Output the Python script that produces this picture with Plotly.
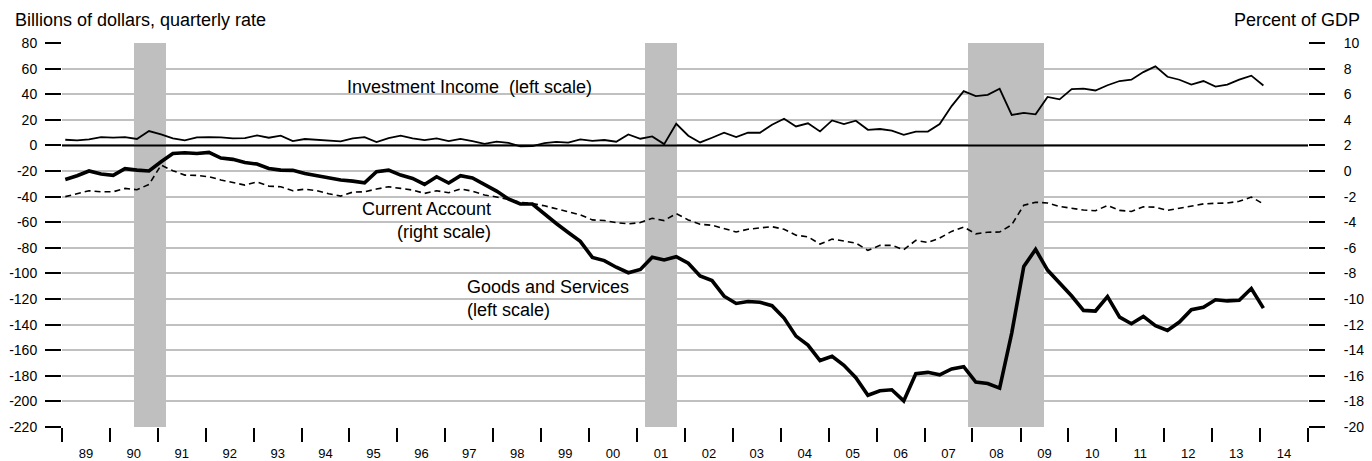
import pandas as pd
import plotly.graph_objects as go

# quarterly data, 1989Q1 - 2014Q1
goods_services = [-26.6, -23.7, -20.0, -22.4, -23.4, -18.2, -19.3, -20.0, -12.8, -6.3,
                  -5.7, -6.3, -5.5, -9.9, -10.9, -13.3, -14.6, -18.0, -19.3, -19.5,
                  -22.0, -23.7, -25.0, -27.0, -27.9, -29.2, -20.6, -19.3, -23.2, -25.8,
                  -30.5, -24.5, -29.4, -23.7, -25.5, -30.5, -35.7, -41.9, -45.8, -45.8,
                  -53.6, -61.0, -68.0, -75.0, -87.5, -90.0, -95.2, -99.5, -96.9, -87.4,
                  -89.5, -87.0, -92.0, -102.0, -105.6, -117.8, -123.5, -122.0, -122.5, -125.2,
                  -134.9, -149.0, -156.0, -168.1, -164.8, -171.8, -181.5, -195.2, -191.7, -190.9,
                  -199.6, -178.4, -177.3, -179.2, -174.6, -172.9, -184.9, -186.0, -189.6, -146.6,
                  -94.5, -81.3, -97.4, -107.5, -117.7, -128.9, -129.4, -118.2, -134.1, -139.3,
                  -133.6, -140.9, -144.5, -138.0, -128.4, -126.4, -120.6, -121.5, -121.0, -111.8,
                  -127.1]

investment_income = [4.4, 3.9, 4.7, 6.5, 6.0, 6.5, 5.0, 11.2, 8.6, 5.5,
                     3.9, 6.3, 6.5, 6.3, 5.5, 5.7, 7.8, 6.0, 7.6, 3.4,
                     5.0, 4.2, 3.6, 3.1, 5.5, 6.5, 2.6, 5.7, 7.6, 5.5,
                     4.2, 5.5, 3.4, 5.1, 3.3, 1.2, 2.9, 2.0, -0.7, -0.6,
                     1.7, 2.8, 2.1, 4.7, 3.6, 4.2, 2.9, 8.6, 5.2, 7.0,
                     1.0, 16.9, 7.6, 2.3, 6.0, 9.9, 6.5, 9.9, 9.9, 16.1,
                     20.8, 14.8, 17.3, 10.9, 19.5, 16.6, 19.3, 12.2, 12.8, 11.5,
                     8.3, 10.8, 10.8, 16.7, 30.7, 42.4, 38.5, 39.5, 44.2, 23.8,
                     25.4, 24.3, 37.9, 36.0, 44.0, 44.3, 42.9, 47.0, 50.3, 51.3,
                     57.3, 61.7, 53.6, 51.3, 47.5, 50.3, 46.0, 47.5, 51.4, 54.5,
                     46.8]

# percent of GDP (right scale)
current_account = [-2.00, -1.78, -1.54, -1.62, -1.62, -1.36, -1.46, -1.05, 0.46, 0.02,
                   -0.32, -0.34, -0.45, -0.70, -0.92, -1.10, -0.86, -1.18, -1.23, -1.54,
                   -1.42, -1.54, -1.78, -1.96, -1.65, -1.62, -1.41, -1.23, -1.36, -1.49,
                   -1.75, -1.54, -1.70, -1.40, -1.58, -1.87, -2.03, -2.22, -2.44, -2.55,
                   -2.72, -2.95, -3.17, -3.43, -3.82, -3.87, -4.03, -4.13, -4.03, -3.69,
                   -3.87, -3.33, -3.82, -4.16, -4.24, -4.50, -4.76, -4.55, -4.45, -4.35,
                   -4.55, -5.02, -5.14, -5.71, -5.32, -5.50, -5.63, -6.20, -5.81, -5.81,
                   -6.15, -5.42, -5.58, -5.24, -4.72, -4.38, -4.91, -4.78, -4.77, -4.20,
                   -2.68, -2.44, -2.50, -2.77, -2.93, -3.05, -3.10, -2.70, -3.08, -3.16,
                   -2.80, -2.82, -3.08, -2.92, -2.71, -2.57, -2.52, -2.50, -2.37, -2.04,
                   -2.57]

recessions = [("1990-07-01", "1991-03-01"),
              ("2001-03-01", "2001-11-01"),
              ("2007-12-01", "2009-07-01")]

left_ticks = list(range(-220, 81, 20))
right_ticks = list(range(-20, 11, 2))

quarters = pd.date_range("1989-01-01", periods=len(goods_services), freq="QS") + pd.Timedelta(days=25)

FONT = "Liberation Sans, Arial, sans-serif"
GRID = "#c0c0c0"

fig = go.Figure()

# recession shading as bars spanning the whole left scale
rec_start = pd.to_datetime([r[0] for r in recessions])
rec_end = pd.to_datetime([r[1] for r in recessions])
rec_mid = rec_start + (rec_end - rec_start) / 2
rec_width = [(e - s).total_seconds() * 1000 for s, e in zip(rec_start, rec_end)]
fig.add_trace(go.Bar(x=rec_mid, y=[left_ticks[-1] - left_ticks[0]] * len(recessions),
                     base=left_ticks[0], width=rec_width,
                     marker=dict(color="#bfbfbf", line_width=0), hoverinfo="skip"))

fig.add_trace(go.Scatter(x=quarters, y=investment_income, mode="lines",
                         line=dict(color="black", width=1.8)))
fig.add_trace(go.Scatter(x=quarters, y=goods_services, mode="lines",
                         line=dict(color="black", width=3.6)))
fig.add_trace(go.Scatter(x=quarters, y=current_account, mode="lines", yaxis="y2",
                         line=dict(color="black", width=1.6, dash="6px,4px")))

fig.add_hline(y=0, line=dict(color="black", width=2), layer="above")

# the page body adds an 8px margin, so the figure is 8px smaller than the window
fig.update_layout(
    width=1364, height=453,
    margin=dict(l=54, r=64, t=35, b=34, autoexpand=False),
    paper_bgcolor="white", plot_bgcolor="white",
    showlegend=False, bargap=0,
    font=dict(family=FONT, size=14, color="black"),
    xaxis=dict(type="date", range=["1989-01-01", "2015-01-01"],
               tick0="1989-01-01", dtick="M12", tickformat="%y", ticklabelmode="period",
               ticks="outside", ticklen=14, tickwidth=2, tickcolor="black",
               showgrid=False, zeroline=False, showline=False,
               tickfont=dict(size=13)),
    yaxis=dict(range=[left_ticks[0], left_ticks[-1]], tickvals=left_ticks,
               ticktext=[str(v) for v in left_ticks],
               ticks="outside", ticklen=16, tickwidth=2,
               tickcolor="black", showgrid=True, gridcolor=GRID, gridwidth=1.5,
               zeroline=False, showline=False, ticklabelstandoff=5,
               tickfont=dict(size=14)),
    yaxis2=dict(range=[right_ticks[0], right_ticks[-1]], tickvals=right_ticks,
                ticktext=[str(v) for v in right_ticks],
                overlaying="y", side="right",
                ticks="outside", ticklen=16, tickwidth=2, tickcolor="black",
                showgrid=False, zeroline=False, showline=False, ticklabelstandoff=16,
                tickfont=dict(size=14)),
)

fig.add_annotation(text="Billions of dollars, quarterly rate", xref="paper", yref="paper",
                   x=-0.0393, y=1.061, xanchor="left", yanchor="middle",
                   showarrow=False, font=dict(size=18))
fig.add_annotation(text="Percent of GDP", xref="paper", yref="paper",
                   x=1.0433, y=1.061, xanchor="right", yanchor="middle",
                   showarrow=False, font=dict(size=18))

fig.add_annotation(text="Investment Income\u00a0\u00a0(left scale)", x="1994-11-25", y=45.9,
                   xanchor="left", yanchor="middle", showarrow=False, font=dict(size=18))
fig.add_annotation(text="Current Account<br>(right scale)", x="1997-12-27", y=-59,
                   xanchor="right", yanchor="middle", align="right",
                   showarrow=False, font=dict(size=18))
fig.add_annotation(text="Goods and Services<br>(left scale)", x="1997-05-27", y=-119.8,
                   xanchor="left", yanchor="middle", align="left",
                   showarrow=False, font=dict(size=18))

fig.write_html("out.html")
